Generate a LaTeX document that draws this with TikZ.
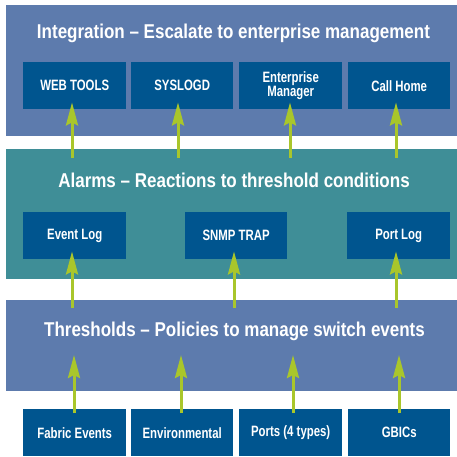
\documentclass[tikz,border=0pt]{standalone}
\usepackage{fontspec}
\setmainfont{Liberation Sans}
\newfontfamily\titlefont{Liberation Sans Bold}[FakeStretch=0.85]
\newfontfamily\boxfont{Liberation Sans Bold}[FakeStretch=0.76]
\usetikzlibrary{arrows.meta}
\definecolor{bandblue}{HTML}{5D7BAD}
\definecolor{bandteal}{HTML}{3F8E97}
\definecolor{boxblue}{HTML}{00558F}
\definecolor{arrgreen}{HTML}{A9C62B}
\tikzset{
  band/.style={fill=#1, draw=none, anchor=north west, inner sep=0pt},
  title/.style={text=white, font=\titlefont\fontsize{20}{22}\selectfont, inner sep=0pt},
  ibox/.style={fill=boxblue, draw=none, text=white, anchor=north west, inner sep=0pt,
    font=\boxfont\fontsize{15}{14.5}\selectfont, align=center, minimum height=47pt},
  arr/.style={draw=arrgreen, line width=3pt, -{Stealth[length=23pt,width=12pt,inset=3pt]}}
}
\begin{document}
\begin{tikzpicture}[x=1pt,y=-1pt]
\useasboundingbox (0,0) rectangle (457,456);
% bands
\node[band=bandblue, minimum width=451pt, minimum height=131pt] (integ) at (6,5) {};
\node[band=bandteal, minimum width=451pt, minimum height=130pt] (alarm) at (6,149) {};
\node[band=bandblue, minimum width=451pt, minimum height=91pt] (thresh) at (6,300) {};
% titles
\node[title] (tI) at (233.5,33) {Integration \textendash{} Escalate to enterprise management};
\node[title] (tA) at (234,180) {Alarms \textendash{} Reactions to threshold conditions};
\node[title] (tT) at (234.5,331) {Thresholds \textendash{} Policies to manage switch events};
% integration boxes
\node[ibox, minimum width=103pt] (web) at (23,62) {WEB TOOLS};
\node[ibox, minimum width=102pt] (sys) at (131,62) {SYSLOGD};
\node[ibox, minimum width=103pt] (ent) at (239,62) {Enterprise\\Manager};
\node[ibox, minimum width=102pt] (call) at (348,62) {Call Home};
% alarm boxes
\node[ibox, minimum width=103pt] (evl) at (23,212) {Event Log};
\node[ibox, minimum width=102pt] (snmp) at (185,212) {SNMP TRAP};
\node[ibox, minimum width=103pt] (plog) at (347,212) {Port Log};
% source boxes
\node[ibox, minimum width=103pt] (fab) at (23,409) {Fabric Events};
\node[ibox, minimum width=102pt] (env) at (131,409) {Environmental};
\node[ibox, minimum width=103pt] (ports) at (239,409) {Ports (4 types)};
\node[ibox, minimum width=102pt] (gbic) at (348,409) {GBICs};
% arrow start points
\coordinate (s1) at (72,158);
\coordinate (s2) at (178,158);
\coordinate (s3) at (290,158);
\coordinate (s4) at (396,158);
\coordinate (m1) at (72,308);
\coordinate (m2) at (234,308);
\coordinate (m3) at (396,308);
\coordinate (b1) at (74,355);
\coordinate (b2) at (181,355);
\coordinate (b3) at (293,355);
\coordinate (b4) at (399,355);
% arrows alarms -> integration
\draw[arr, shorten >=-7pt] (s1) -- (s1 |- web.south);
\draw[arr, shorten >=-7pt] (s2) -- (s2 |- sys.south);
\draw[arr, shorten >=-7pt] (s3) -- (s3 |- ent.south);
\draw[arr, shorten >=-7pt] (s4) -- (s4 |- call.south);
% arrows thresholds -> alarms
\draw[arr, shorten >=-8pt] (m1) -- (m1 |- evl.south);
\draw[arr, shorten >=-8pt] (m2) -- (m2 |- snmp.south);
\draw[arr, shorten >=-8pt] (m3) -- (m3 |- plog.south);
% arrows sources -> thresholds
\draw[arr, shorten <=-4pt] (b1 |- fab.north) -- (b1);
\draw[arr, shorten <=-4pt] (b2 |- env.north) -- (b2);
\draw[arr, shorten <=-4pt] (b3 |- ports.north) -- (b3);
\draw[arr, shorten <=-4pt] (b4 |- gbic.north) -- (b4);
\end{tikzpicture}
\end{document}
